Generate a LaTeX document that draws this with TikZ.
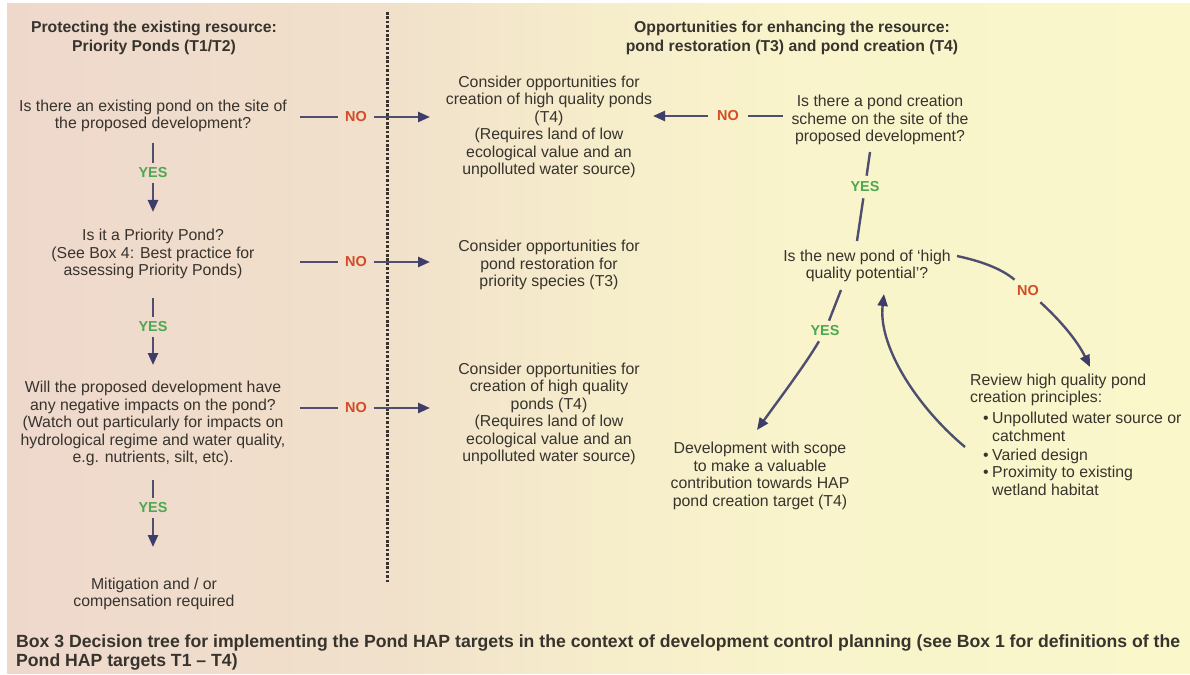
\documentclass[tikz,border=0pt]{standalone}
\usepackage{fontspec}
\setmainfont{Liberation Sans}
\usetikzlibrary{arrows.meta}
\definecolor{txt}{RGB}{55,51,45}
\definecolor{lnc}{RGB}{80,78,112}
\definecolor{tipc}{RGB}{62,60,104}
\definecolor{yesc}{RGB}{78,168,80}
\definecolor{noc}{RGB}{212,76,38}
\pgfdeclarehorizontalshading{bgshade}{100bp}{%
 rgb(0bp)=(0.933,0.847,0.800);
 rgb(25bp)=(0.933,0.847,0.800);
 rgb(41.5bp)=(0.945,0.882,0.796);
 rgb(50bp)=(0.965,0.929,0.796);
 rgb(58.5bp)=(0.976,0.957,0.796);
 rgb(75bp)=(0.980,0.969,0.796);
 rgb(100bp)=(0.980,0.969,0.796)}
\tikzset{
 body/.style={font=\fontsize{15.9}{17.6}\selectfont, text=txt, align=center, inner sep=0pt},
 hdr/.style={font=\bfseries\fontsize{15.8}{19}\selectfont, text=txt, align=center, inner sep=0pt},
 yeslab/.style={font=\bfseries\fontsize{14.5}{16}\selectfont, text=yesc, inner xsep=3bp, inner ysep=4.5bp},
 nolab/.style={font=\bfseries\fontsize{14.5}{16}\selectfont, text=noc, inner xsep=6.5bp, inner ysep=3bp},
 conn/.style={draw=lnc, line width=2.4bp},
 arr/.style={conn, -{Triangle[length=12bp,width=10bp,color=tipc]}},
}
\begin{document}
\begin{tikzpicture}[x=1bp,y=-1bp]
\useasboundingbox (0,0) rectangle (1190,675);
\fill[white] (0,0) rectangle (1190,675);
\shade[shading=bgshade] (7,4) rectangle (1190,673);

% divider
\coordinate (dtop) at (387,12);
\coordinate (dbot) at (387,583);
\draw[line width=3bp, dash pattern=on 2.6bp off 1.8bp, draw=txt] (dtop) -- (dbot);

% headers
\node[hdr] (hL) at (154,37.5) {Protecting the existing resource:\\Priority Ponds (T1/T2)};
\node[hdr] (hR) at (792,37.5) {Opportunities for enhancing the resource:\\pond restoration (T3) and pond creation (T4)};

% left column
\node[body] (q1) at (153,116) {Is there an existing pond on the site of\\the proposed development?};
\node[body] (q2) at (153,254) {Is it a Priority Pond?\\(See Box 4: Best practice for\\assessing Priority Ponds)};
\node[body] (q3) at (153,423.5) {Will the proposed development have\\any negative impacts on the pond?\\(Watch out particularly for impacts on\\hydrological regime and water quality,\\e.g. nutrients, silt, etc).};
\node[body] (q4) at (154,594) {Mitigation and / or\\compensation required};

% middle column
\node[body] (m1) at (549,127) {Consider opportunities for\\creation of high quality ponds\\(T4)\\(Requires land of low\\ecological value and an\\unpolluted water source)};
\node[body] (m2) at (549,265) {Consider opportunities for\\pond restoration for\\priority species (T3)};
\node[body] (m3) at (549,414) {Consider opportunities for\\creation of high quality\\ponds (T4)\\(Requires land of low\\ecological value and an\\unpolluted water source)};

% right column
\node[body] (r1) at (880,120) {Is there a pond creation\\scheme on the site of the\\proposed development?};
\node[body] (r2) at (867,266) {Is the new pond of `high\\quality potential'?};
\node[body] (r3) at (760,476) {Development with scope\\to make a valuable\\contribution towards HAP\\pond creation target (T4)};
\node[body, align=left, anchor=west] (r4) at (970,434.5) {Review high quality pond\\creation principles:\\[3.5bp]
\hspace*{13bp}\makebox[9bp][l]{•}Unpolluted water source or\\
\hspace*{22bp}catchment\\[1.5bp]
\hspace*{13bp}\makebox[9bp][l]{•}Varied design\\
\hspace*{13bp}\makebox[9bp][l]{•}Proximity to existing\\
\hspace*{22bp}wetland habitat};

% caption
\node[font=\bfseries\fontsize{17.7}{19}\selectfont, text=txt, align=left, inner sep=0pt, anchor=west] (cap) at (16,652.5)
 {Box 3 Decision tree for implementing the Pond HAP targets in the context of development control planning (see Box 1 for definitions of the\\Pond HAP targets T1 -- T4)};

% left YES chain
\coordinate (a1s) at (153,143);
\node[yeslab] (y1) at (153,173) {YES};
\coordinate (a1t) at (153,212);
\draw[conn] (a1s) -- (y1);
\draw[arr] (y1) -- (a1t);

\coordinate (a2s) at (153,298);
\node[yeslab] (y2) at (153,327) {YES};
\coordinate (a2t) at (153,365);
\draw[conn] (a2s) -- (y2);
\draw[arr] (y2) -- (a2t);

\coordinate (a3s) at (153,480);
\node[yeslab] (y3) at (153,508) {YES};
\coordinate (a3t) at (153,547);
\draw[conn] (a3s) -- (y3);
\draw[arr] (y3) -- (a3t);

% left NO arrows
\coordinate (n1s) at (300,117);
\node[nolab] (no1) at (356,117) {NO};
\coordinate (n1t) at (430,117);
\draw[conn] (n1s) -- (no1);
\draw[arr] (no1) -- (n1t);

\coordinate (n2s) at (300,262);
\node[nolab] (no2) at (356,262) {NO};
\coordinate (n2t) at (430,262);
\draw[conn] (n2s) -- (no2);
\draw[arr] (no2) -- (n2t);

\coordinate (n3s) at (300,408);
\node[nolab] (no3) at (356,408) {NO};
\coordinate (n3t) at (430,408);
\draw[conn] (n3s) -- (no3);
\draw[arr] (no3) -- (n3t);

% right NO to m1
\coordinate (n4s) at (783,116);
\node[nolab, inner xsep=9bp] (no4) at (728,116) {NO};
\coordinate (n4t) at (653,116);
\draw[conn] (n4s) -- (no4);
\draw[arr] (no4) -- (n4t);

% r1 YES to r2
\coordinate (a4s) at (870,152);
\node[yeslab, inner ysep=6bp] (y4) at (865,187) {YES};
\coordinate (a4t) at (857,241);
\draw[conn] (a4s) -- (y4);
\draw[conn] (y4) -- (a4t);

% r2 YES to r3
\coordinate (a5s) at (841,290);
\node[yeslab, inner ysep=5bp] (y5) at (825,331) {YES};
\coordinate (a5t) at (757,430);
\draw[conn] (a5s) -- (y5);
\draw[arr] (y5) .. controls (805,365) and (780,398) .. (a5t);

% r2 NO to r4
\coordinate (n5s) at (957,256);
\node[nolab, inner sep=6bp] (no5) at (1028,291) {NO};
\coordinate (n5t) at (1090,367);
\draw[conn] (n5s) .. controls (985,262) and (1003,270) .. (no5);
\draw[arr] (no5) .. controls (1062,322) and (1078,342) .. (n5t);

% r4 back to r2
\coordinate (b1s) at (965,447);
\coordinate (b1t) at (884,294);
\draw[arr] (b1s) .. controls (915,405) and (878,345) .. (b1t);
\end{tikzpicture}
\end{document}
